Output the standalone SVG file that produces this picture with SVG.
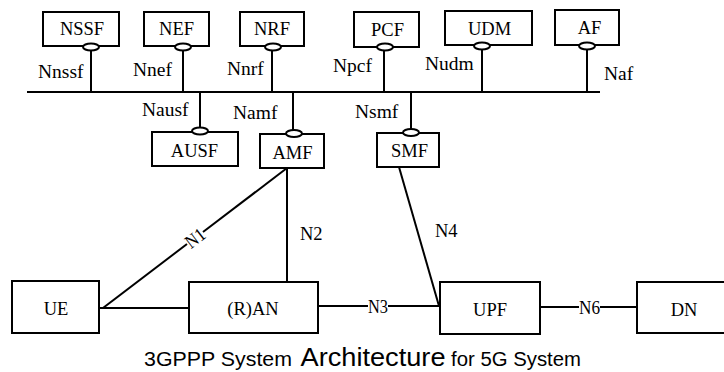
<svg xmlns="http://www.w3.org/2000/svg" width="724" height="372" viewBox="0 0 724 372">
<style>
.bg{fill:#fff}
.box{fill:#fff;stroke:#000;stroke-width:2}
.sbi{fill:#fff;stroke:#000;stroke-width:2}
.ln{stroke:#000;stroke-width:2;fill:none}
.nt{font-family:"Liberation Serif","Times New Roman",serif;font-size:18.5px;fill:#000;text-anchor:middle}
.lb{font-family:"Liberation Serif","Times New Roman",serif;font-size:19.5px;fill:#000}
.rl{font-family:"Liberation Serif","Times New Roman",serif;font-size:18.5px;fill:#000}
.cl{font-family:"Liberation Serif","Times New Roman",serif;font-size:19px;fill:#000;text-anchor:middle}
.cap{font-family:"Liberation Sans",Arial,Helvetica,sans-serif;fill:#000}
</style>
<rect class="bg" x="0" y="0" width="724" height="372"/>
<g id="connectors">
  <line class="ln" x1="27" y1="92" x2="600" y2="92"/>
  <line class="ln" x1="91" y1="50" x2="91" y2="92"/>
  <line class="ln" x1="183" y1="50" x2="183" y2="92"/>
  <line class="ln" x1="272" y1="50" x2="272" y2="92"/>
  <line class="ln" x1="384" y1="50" x2="384" y2="92"/>
  <line class="ln" x1="482" y1="49" x2="482" y2="92"/>
  <line class="ln" x1="587" y1="49" x2="587" y2="92"/>
  <line class="ln" x1="200" y1="92" x2="200" y2="129"/>
  <line class="ln" x1="293" y1="92" x2="293" y2="131"/>
  <line class="ln" x1="411" y1="92" x2="411" y2="130"/>
  <text class="lb" x="38" y="78">Nnssf</text>
  <text class="lb" x="133" y="76">Nnef</text>
  <text class="lb" x="227" y="75">Nnrf</text>
  <text class="lb" x="333" y="72">Npcf</text>
  <text class="lb" x="425" y="70">Nudm</text>
  <text class="lb" x="604" y="80">Naf</text>
  <text class="lb" x="142" y="116">Nausf</text>
  <text class="lb" x="233" y="119">Namf</text>
  <text class="lb" x="355" y="118">Nsmf</text>
  <!-- N1 -->
  <line class="ln" x1="103" y1="308" x2="187" y2="244"/>
  <line class="ln" x1="203" y1="232" x2="287" y2="168"/>
  <text class="cl" transform="translate(195,238) rotate(-37.3)" x="0" y="6.5" textLength="20" lengthAdjust="spacingAndGlyphs">N1</text>
  <!-- N2 -->
  <line class="ln" x1="287" y1="168" x2="287" y2="282"/>
  <text class="rl" x="300" y="240">N2</text>
  <!-- UE - RAN -->
  <line class="ln" x1="99" y1="308" x2="189" y2="308"/>
  <!-- N3 -->
  <line class="ln" x1="318" y1="306" x2="368" y2="306"/>
  <line class="ln" x1="388" y1="306" x2="440" y2="306"/>
  <text class="cl" x="378" y="312.5" textLength="20" lengthAdjust="spacingAndGlyphs">N3</text>
  <!-- N4 -->
  <line class="ln" x1="399" y1="167" x2="439" y2="306"/>
  <text class="rl" x="435" y="237">N4</text>
  <!-- N6 -->
  <line class="ln" x1="540" y1="307" x2="579" y2="307"/>
  <line class="ln" x1="600" y1="307" x2="637" y2="307"/>
  <text class="cl" x="589.5" y="314" textLength="21" lengthAdjust="spacingAndGlyphs">N6</text>
</g>
<g id="NSSF">
  <rect class="box" x="43" y="12" width="76" height="34"/>
  <text class="nt" x="82" y="35">NSSF</text>
  <ellipse class="sbi" cx="91" cy="47" rx="8" ry="3.5"/>
</g>
<g id="NEF">
  <rect class="box" x="144" y="12" width="65" height="34"/>
  <text class="nt" x="176.5" y="35">NEF</text>
  <ellipse class="sbi" cx="183" cy="47" rx="8" ry="3.5"/>
</g>
<g id="NRF">
  <rect class="box" x="240" y="12" width="64" height="34"/>
  <text class="nt" x="272" y="35">NRF</text>
  <ellipse class="sbi" cx="273" cy="47" rx="8" ry="3.5"/>
</g>
<g id="PCF">
  <rect class="box" x="354" y="12" width="65" height="35"/>
  <text class="nt" x="387.5" y="35.5">PCF</text>
  <ellipse class="sbi" cx="385" cy="47" rx="8" ry="3.5"/>
</g>
<g id="UDM">
  <rect class="box" x="445" y="11" width="87" height="34"/>
  <text class="nt" x="489.5" y="34.5">UDM</text>
  <ellipse class="sbi" cx="482" cy="46" rx="8" ry="3.5"/>
</g>
<g id="AF">
  <rect class="box" x="555" y="10" width="64" height="35"/>
  <text class="nt" x="589.5" y="33.5">AF</text>
  <ellipse class="sbi" cx="587" cy="46" rx="8" ry="3.5"/>
</g>
<g id="AUSF">
  <rect class="box" x="152" y="132" width="86" height="34"/>
  <text class="nt" x="194.5" y="156.5">AUSF</text>
  <ellipse class="sbi" cx="200" cy="131" rx="8" ry="3.5"/>
</g>
<g id="AMF">
  <rect class="box" x="260" y="134" width="64" height="34"/>
  <text class="nt" x="292.5" y="158.5">AMF</text>
  <ellipse class="sbi" cx="294" cy="133.5" rx="8" ry="3.5"/>
</g>
<g id="SMF">
  <rect class="box" x="377" y="133" width="62" height="34"/>
  <text class="nt" x="409.5" y="157">SMF</text>
  <ellipse class="sbi" cx="411" cy="132.5" rx="8" ry="3.5"/>
</g>
<g id="UE">
  <rect class="box" x="12" y="281" width="87" height="52"/>
  <text class="nt" x="56" y="315">UE</text>
</g>
<g id="RAN">
  <rect class="box" x="189" y="282" width="129" height="51"/>
  <text class="nt" x="253" y="315">(R)AN</text>
</g>
<g id="UPF">
  <rect class="box" x="440" y="282" width="100" height="52"/>
  <text class="nt" x="490" y="316">UPF</text>
</g>
<g id="DN">
  <rect class="box" x="637" y="282" width="92" height="51"/>
  <text class="nt" x="684" y="316">DN</text>
</g>
<g id="caption">
  <text class="cap" x="144" y="366" font-size="21" textLength="148" lengthAdjust="spacingAndGlyphs">3GPPP System</text>
  <text class="cap" x="300.5" y="366" font-size="25" textLength="145" lengthAdjust="spacingAndGlyphs">Architecture</text>
  <text class="cap" x="451" y="366" font-size="20.5" textLength="130" lengthAdjust="spacingAndGlyphs">for 5G System</text>
</g>
</svg>
